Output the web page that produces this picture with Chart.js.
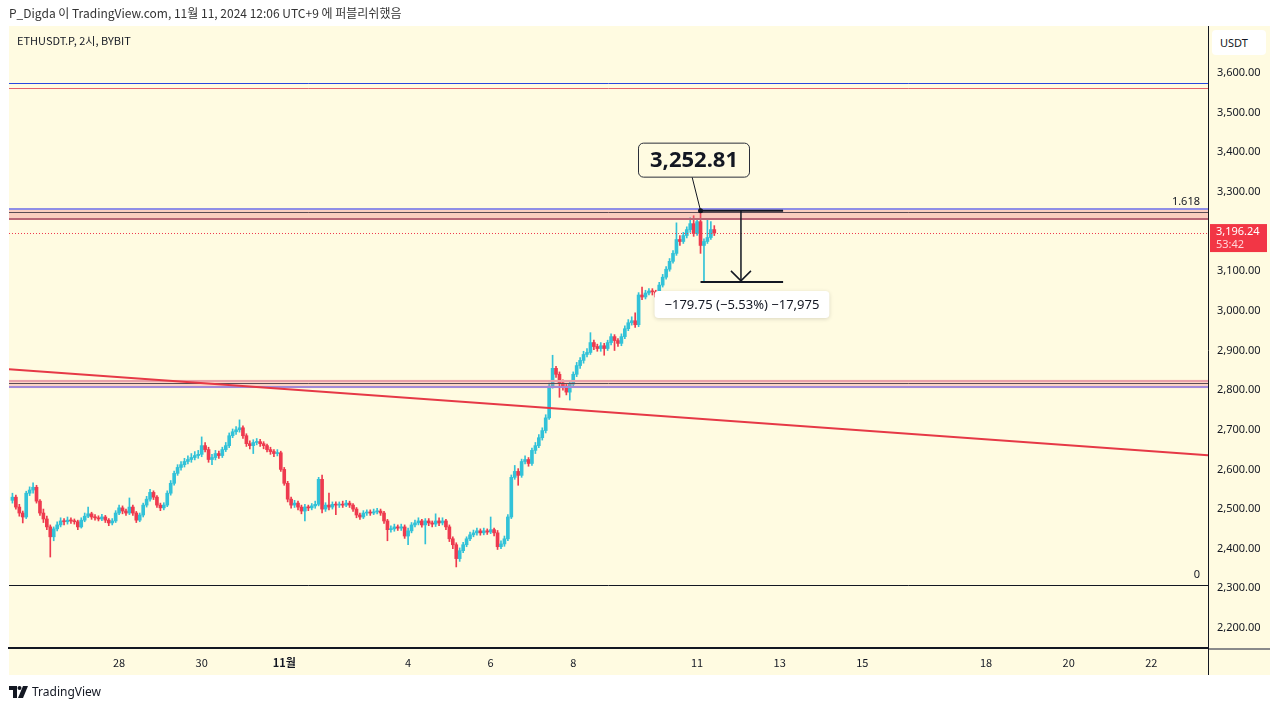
<!DOCTYPE html>
<html>
<head>
<meta charset="utf-8">
<script src="https://cdn.jsdelivr.net/npm/chart.js@4.4.1/dist/chart.umd.min.js"></script>
<style>
  html,body{margin:0;padding:0;background:#fff;width:1280px;height:709px;overflow:hidden;font-family:'Noto Sans','Noto Sans CJK KR',sans-serif;}
  #wrap{position:relative;width:1280px;height:709px;}
  canvas{position:absolute;left:0;top:0;}
  .txt{position:absolute;white-space:nowrap;color:#2a2e39;}
  #hdr{left:9px;top:4px;font-size:12px;font-family:'Noto Sans CJK KR','Noto Sans',sans-serif;color:#333;}
  #sym{left:17px;top:32px;font-size:11px;font-family:'Noto Sans CJK KR','Noto Sans',sans-serif;color:#131722;}
  #usdt{left:1212px;top:30px;width:54px;height:25px;background:#fff;border-radius:4px;font-size:11px;line-height:25px;text-indent:8px;color:#131722;}
  #foot{left:9px;top:683px;font-size:12px;color:#131722;display:flex;align-items:center;}
  #foot svg{margin-right:4px;}
</style>
</head>
<body>
<div id="wrap">
  <canvas id="c" width="1280" height="709"></canvas>
  <div class="txt" id="hdr">P_Digda 이 TradingView.com, 11월 11, 2024 12:06 UTC+9 에 퍼블리쉬했음</div>
  <div class="txt" id="sym">ETHUSDT.P, 2시, BYBIT</div>
  <div class="txt" id="usdt">USDT</div>
  <div class="txt" id="foot"><svg width="19" height="12" viewBox="0 0 19 12"><path d="M0 0h8v12H4V4H0z" fill="#131722"/><circle cx="10.5" cy="2" r="2" fill="#131722"/><path d="M14 0h5l-5 12h-5z" fill="#131722"/></svg>TradingView</div>
</div>
<script>
// ---- Data ----
const tickHours  = [0, 48, 96, 168, 216, 264, 336, 384, 432, 504, 552, 600];
const tickLabels = ['28', '30', '11월', '4', '6', '8', '11', '13', '15', '18', '20', '22'];
const priceTicks = [2200, 2300, 2400, 2500, 2600, 2700, 2800, 2900, 3000, 3100, 3200, 3300, 3400, 3500, 3600];
const firstCandleHour = -62;   // hours from Oct 28 00:00
const candleHours = 2;

const opens = [2522,2530,2505,2490,2480,2540,2548,2555,2520,2490,2475,2455,2430,2450,2460,2470,2468,2472,2470,2468,
2455,2472,2482,2488,2480,2478,2475,2480,2472,2465,2470,2490,2503,2495,2490,2505,2490,2472,2485,2510,
2525,2542,2530,2510,2503,2510,2540,2565,2590,2605,2612,2620,2625,2630,2635,2638,2660,2650,2625,2630,
2640,2635,2650,2660,2685,2695,2700,2705,2685,2665,2660,2668,2670,2665,2660,2650,2645,2640,2642,2600,
2565,2525,2510,2515,2505,2495,2505,2503,2508,2512,2575,2500,2510,2505,2512,2510,2512,2510,2515,2510,
2500,2485,2480,2490,2492,2490,2493,2495,2490,2470,2448,2450,2455,2452,2455,2432,2445,2460,2465,2470,
2460,2470,2465,2462,2470,2465,2470,2455,2425,2410,2375,2395,2410,2425,2435,2440,2445,2440,2445,2442,
2448,2440,2405,2412,2425,2480,2580,2595,2585,2620,2625,2615,2648,2660,2680,2698,2730,2810,2855,2840,
2818,2810,2795,2815,2840,2862,2875,2890,2895,2920,2910,2905,2912,2905,2920,2935,2925,2918,2935,2955,
2970,2975,2965,3040,3035,3045,3050,3048,3035,3065,3085,3105,3125,3145,3180,3175,3190,3205,3220,3195,
3225,3165,3175,3185,3205];
const closes = [2530,2505,2490,2480,2540,2548,2555,2520,2490,2475,2455,2430,2450,2460,2470,2468,2472,2470,2468,2455,
2472,2482,2488,2480,2478,2475,2480,2472,2465,2470,2490,2503,2495,2490,2505,2490,2472,2485,2510,2525,
2542,2530,2510,2503,2510,2540,2565,2590,2605,2612,2620,2625,2630,2635,2638,2660,2650,2625,2630,2640,
2635,2650,2660,2685,2695,2700,2705,2685,2665,2660,2668,2670,2665,2660,2650,2645,2640,2642,2600,2565,
2525,2510,2515,2505,2495,2505,2503,2508,2512,2575,2500,2510,2505,2512,2510,2512,2510,2515,2510,2500,
2485,2480,2490,2492,2490,2493,2495,2490,2470,2448,2450,2455,2452,2455,2432,2445,2460,2465,2470,2460,
2470,2465,2462,2470,2465,2470,2455,2425,2410,2375,2395,2410,2425,2435,2440,2445,2440,2445,2442,2448,
2440,2405,2412,2425,2480,2580,2595,2585,2620,2625,2615,2648,2660,2680,2698,2730,2810,2855,2840,2818,
2810,2795,2815,2840,2862,2875,2890,2895,2920,2910,2905,2912,2905,2920,2935,2925,2918,2935,2955,2970,
2975,2965,3040,3035,3045,3050,3048,3035,3065,3085,3105,3125,3145,3180,3175,3190,3205,3220,3195,3225,
3165,3175,3185,3205,3196.24];
const highs = [2540,2535,2512,2495,2545,2556,2566,2560,2524,2500,2482,2460,2455,2468,2478,2476,2480,2478,2475,2472,
2478,2490,2505,2492,2486,2483,2487,2484,2476,2476,2496,2510,2508,2500,2528,2510,2494,2490,2515,2532,
2550,2546,2534,2515,2516,2546,2572,2596,2612,2620,2628,2634,2640,2645,2648,2682,2668,2656,2638,2648,
2646,2656,2668,2692,2702,2708,2725,2710,2690,2672,2675,2678,2676,2670,2664,2656,2650,2650,2646,2605,
2570,2530,2522,2520,2510,2512,2510,2514,2520,2580,2586,2516,2540,2518,2518,2518,2520,2522,2520,2514,
2504,2490,2496,2498,2498,2500,2502,2500,2494,2474,2458,2462,2460,2462,2460,2452,2466,2472,2478,2474,
2476,2476,2470,2488,2478,2478,2474,2460,2430,2415,2402,2416,2430,2442,2447,2452,2450,2452,2450,2480,
2452,2446,2420,2432,2486,2586,2610,2602,2626,2634,2630,2654,2668,2688,2705,2738,2818,2888,2860,2846,
2826,2816,2822,2846,2870,2882,2898,2905,2945,2926,2916,2920,2918,2926,2942,2940,2930,2942,2962,2978,
2985,2995,3046,3060,3052,3056,3056,3052,3072,3092,3112,3132,3152,3222,3190,3198,3212,3235,3240,3232,
3252.81,3182,3229,3225,3215];
const lows = [2515,2500,2482,2465,2476,2534,2540,2515,2484,2466,2448,2379,2420,2445,2455,2460,2462,2464,2462,2448,
2452,2468,2478,2474,2472,2470,2471,2466,2458,2460,2466,2486,2488,2484,2486,2484,2466,2468,2480,2505,
2520,2524,2504,2496,2498,2506,2535,2560,2585,2598,2606,2614,2618,2624,2628,2632,2644,2618,2612,2624,
2628,2630,2645,2655,2680,2688,2694,2678,2658,2652,2640,2662,2658,2652,2644,2638,2632,2634,2595,2560,
2518,2502,2504,2498,2488,2470,2496,2498,2502,2508,2490,2494,2498,2500,2486,2504,2504,2506,2504,2494,
2478,2474,2476,2484,2484,2486,2488,2484,2464,2420,2442,2444,2446,2446,2426,2410,2440,2455,2460,2454,
2412,2458,2455,2456,2458,2460,2448,2418,2400,2354,2368,2390,2405,2420,2430,2434,2434,2435,2436,2438,
2432,2398,2400,2406,2420,2476,2575,2560,2580,2614,2608,2610,2640,2655,2674,2692,2726,2805,2832,2782,
2800,2788,2775,2810,2834,2855,2868,2884,2890,2902,2898,2898,2888,2900,2914,2900,2910,2912,2930,2950,
2964,2958,2960,3028,3030,3040,3040,3002,3030,3060,3080,3100,3120,3140,3165,3170,3184,3198,3188,3190,
3145,3073.06,3170,3180,3190];

// drawings (price levels)
const topBlueLevel = 3575, topRedLevel = 3562;
const upperBand = {top: 3258, bottom: 3230, blue: 3257, dark: 3249, red: 3232};
const midBand = {top: 2826, bottom: 2805, pink: 2824, dark: 2818, purple: 2808};
const fibZeroLevel = 2309;
const fibLabels = [{text: '1.618', value: 3252}, {text: '0', value: 2309}];
const trendStart = {h: -64, p: 2853}, trendEnd = {h: 633, p: 2636};
const lastPrice = 3196.24, lastPriceText = '3,196.24', countdownText = '53:42';
const peakPrice = 3252.81, peakHour = 338, peakText = '3,252.81';
const measure = {fromH: 338, toH: 386, arrowH: 361.5, top: 3252.81, bottom: 3073.06, text: '−179.75 (−5.53%) −17,975'};

const X_MIN = -64, X_MAX = 633, Y_MIN = 2149.5, Y_MAX = 3718.6;
const UP = '#32c2d8', DOWN = '#ee3a4e';

const hoursArr = opens.map((_, i) => firstCandleHour + i * candleHours);
const colors = opens.map((o, i) => closes[i] >= o ? UP : DOWN);
const bodyData = opens.map((o, i) => ({x: hoursArr[i], y: [o, closes[i]]}));
const wickData = opens.map((o, i) => ({x: hoursArr[i], y: [lows[i], highs[i]]}));

function roundRect(ctx, x, y, w, h, r) {
  ctx.beginPath();
  ctx.moveTo(x + r, y);
  ctx.arcTo(x + w, y, x + w, y + h, r);
  ctx.arcTo(x + w, y + h, x, y + h, r);
  ctx.arcTo(x, y + h, x, y, r);
  ctx.arcTo(x, y, x + w, y, r);
  ctx.closePath();
}

const bgPlugin = {
  id: 'bg',
  beforeDraw(chart) {
    const ctx = chart.ctx;
    ctx.save();
    ctx.fillStyle = '#fffbe1';
    ctx.fillRect(9, 26, 1261, 649);
    ctx.restore();
  }
};

const drawPlugin = {
  id: 'drawings',
  afterDatasetsDraw(chart) {
    const ctx = chart.ctx, xs = chart.scales.x, ys = chart.scales.y, a = chart.chartArea;
    const Y = v => ys.getPixelForValue(v), X = v => xs.getPixelForValue(v);
    ctx.save();
    ctx.beginPath(); ctx.rect(a.left, a.top, a.right - a.left, a.bottom - a.top); ctx.clip();
    function hline(v, color, w) {
      ctx.strokeStyle = color; ctx.lineWidth = w; ctx.beginPath();
      const y = Math.round(Y(v)) + (w % 2 ? 0.5 : 0);
      ctx.moveTo(a.left, y); ctx.lineTo(a.right, y); ctx.stroke();
    }
    // top levels
    hline(topBlueLevel, '#2848e0', 1);
    hline(topRedLevel, '#e4606c', 1);
    // upper band
    ctx.fillStyle = 'rgba(242,120,130,0.35)';
    ctx.fillRect(a.left, Y(upperBand.top), a.right - a.left, Y(upperBand.bottom) - Y(upperBand.top));
    hline(upperBand.blue, '#8f8ee6', 2);
    hline(upperBand.dark, '#5a4b55', 1);
    hline(upperBand.red, '#b86676', 2);
    // mid band
    ctx.fillStyle = 'rgba(242,120,130,0.30)';
    ctx.fillRect(a.left, Y(midBand.top), a.right - a.left, Y(midBand.bottom) - Y(midBand.top));
    hline(midBand.pink, '#e9a0a8', 2);
    hline(midBand.dark, '#5a4b55', 1);
    hline(midBand.purple, '#a28ad8', 2);
    // fib zero
    hline(fibZeroLevel, '#131722', 1);
    // trendline
    ctx.strokeStyle = '#e63946'; ctx.lineWidth = 2; ctx.beginPath();
    ctx.moveTo(X(trendStart.h), Y(trendStart.p)); ctx.lineTo(X(trendEnd.h), Y(trendEnd.p)); ctx.stroke();
    // last price dotted line
    ctx.strokeStyle = '#ee3a4e'; ctx.lineWidth = 1; ctx.setLineDash([1, 2]); ctx.beginPath();
    const ly = Math.round(Y(lastPrice)) + 0.5;
    ctx.moveTo(a.left, ly); ctx.lineTo(a.right, ly); ctx.stroke(); ctx.setLineDash([]);
    // fib labels
    ctx.fillStyle = '#131722'; ctx.font = '11px "Noto Sans", sans-serif'; ctx.textAlign = 'right'; ctx.textBaseline = 'bottom';
    fibLabels.forEach(f => ctx.fillText(f.text, a.right - 8, Y(f.value) - 4));
    // measurement tool
    const mx1 = X(measure.fromH), mx2 = X(measure.toH), mxa = X(measure.arrowH), mt = Y(measure.top), mb = Y(measure.bottom);
    ctx.strokeStyle = '#131722'; ctx.lineWidth = 2;
    ctx.beginPath(); ctx.moveTo(mx1, mt); ctx.lineTo(mx2, mt); ctx.moveTo(mx1, mb); ctx.lineTo(mx2, mb); ctx.stroke();
    ctx.lineWidth = 1.5;
    ctx.beginPath(); ctx.moveTo(mxa, mt); ctx.lineTo(mxa, mb - 1); ctx.stroke();
    ctx.beginPath(); ctx.moveTo(mxa - 10, mb - 11); ctx.lineTo(mxa, mb - 1); ctx.lineTo(mxa + 10, mb - 11); ctx.stroke();
    // measurement label
    ctx.font = '13px "Noto Sans", sans-serif';
    const tw = ctx.measureText(measure.text).width;
    const bw = tw + 20, bh = 27, bx = mxa - bw / 2 + 1, by = mb + 9;
    ctx.shadowColor = 'rgba(0,0,0,0.15)'; ctx.shadowBlur = 4; ctx.shadowOffsetY = 1;
    ctx.fillStyle = '#ffffff'; roundRect(ctx, bx, by, bw, bh, 4); ctx.fill();
    ctx.shadowColor = 'transparent'; ctx.shadowBlur = 0; ctx.shadowOffsetY = 0;
    ctx.fillStyle = '#131722'; ctx.textAlign = 'center'; ctx.textBaseline = 'middle';
    ctx.fillText(measure.text, bx + bw / 2, by + bh / 2 + 1);
    // peak callout
    const px = X(peakHour), py = Y(peakPrice);
    const cbx = 638, cbw = 111, cbh = 34, cby = py - 68;
    ctx.strokeStyle = '#131722'; ctx.lineWidth = 1;
    ctx.beginPath(); ctx.moveTo(cbx + 54, cby + cbh); ctx.lineTo(px, py); ctx.stroke();
    ctx.fillStyle = '#131722'; ctx.beginPath(); ctx.arc(px, py, 2.5, 0, Math.PI * 2); ctx.fill();
    ctx.fillStyle = '#fffbe1'; roundRect(ctx, cbx + 0.5, cby + 0.5, cbw, cbh, 5); ctx.fill();
    ctx.strokeStyle = '#2a2e39'; ctx.stroke();
    ctx.fillStyle = '#131722'; ctx.font = 'bold 22px "Noto Sans", sans-serif';
    ctx.textAlign = 'center'; ctx.textBaseline = 'middle';
    ctx.fillText(peakText, cbx + cbw / 2 + 0.5, cby + cbh / 2 + 1.5);
    ctx.restore();
  },
  afterDraw(chart) {
    const ctx = chart.ctx, ys = chart.scales.y, a = chart.chartArea;
    ctx.save();
    // right axis border line extending through date area
    ctx.strokeStyle = '#131722'; ctx.lineWidth = 1;
    ctx.beginPath(); ctx.moveTo(a.right + 0.5, 26); ctx.lineTo(a.right + 0.5, 675); ctx.stroke();
    // gray line in axis corner
    ctx.strokeStyle = '#8a8a8a'; ctx.lineWidth = 2;
    ctx.beginPath(); ctx.moveTo(a.right + 1, a.bottom + 1); ctx.lineTo(1270, a.bottom + 1); ctx.stroke();
    // last price label
    const y = ys.getPixelForValue(lastPrice);
    ctx.fillStyle = '#f23645';
    ctx.fillRect(a.right + 2, y - 9, 57, 28);
    ctx.fillStyle = '#ffffff'; ctx.font = '11px "Noto Sans", sans-serif'; ctx.textAlign = 'left'; ctx.textBaseline = 'middle';
    ctx.fillText(lastPriceText, a.right + 8, y - 1);
    ctx.fillStyle = '#ffd4d8';
    ctx.fillText(countdownText, a.right + 8, y + 12);
    ctx.restore();
  }
};

new Chart(document.getElementById('c'), {
  data: {
    datasets: [
      {type: 'bar', label: 'body', data: bodyData, backgroundColor: colors, borderWidth: 0,
       barThickness: 3, minBarLength: 1, grouped: false, order: 1},
      {type: 'bar', label: 'wick', data: wickData, backgroundColor: colors, borderWidth: 0,
       barThickness: 1, grouped: false, order: 2}
    ]
  },
  options: {
    responsive: false,
    devicePixelRatio: 1,
    animation: false,
    events: [],
    layout: {padding: {left: 9, top: 26, right: 10, bottom: 34}},
    plugins: {legend: {display: false}, tooltip: {enabled: false}},
    scales: {
      x: {
        type: 'linear', min: X_MIN, max: X_MAX, offset: false,
        grid: {display: false, drawTicks: false},
        border: {display: true, color: '#131722', width: 2},
        afterBuildTicks: s => { s.ticks = tickHours.map(v => ({value: v})); },
        afterFit: s => { s.height = 27; },
        ticks: {
          autoSkip: false, maxRotation: 0, padding: 8, color: '#131722',
          font: c => ({family: '"Noto Sans CJK KR", "Noto Sans", sans-serif', size: 11,
                       weight: (c.tick && tickHours.indexOf(c.tick.value) === 2) ? 'bold' : 'normal'}),
          callback: v => { const k = tickHours.indexOf(v); return k >= 0 ? tickLabels[k] : ''; }
        }
      },
      y: {
        type: 'linear', position: 'right', min: Y_MIN, max: Y_MAX,
        grid: {display: false, drawTicks: false},
        border: {display: false},
        afterBuildTicks: s => { s.ticks = priceTicks.map(v => ({value: v})); },
        afterFit: s => { s.width = 62; },
        ticks: {
          padding: 9, color: '#131722', font: {family: '"Noto Sans", sans-serif', size: 11},
          callback: v => v.toLocaleString('en-US', {minimumFractionDigits: 2, maximumFractionDigits: 2})
        }
      }
    }
  },
  plugins: [bgPlugin, drawPlugin]
});
</script>
</body>
</html>
